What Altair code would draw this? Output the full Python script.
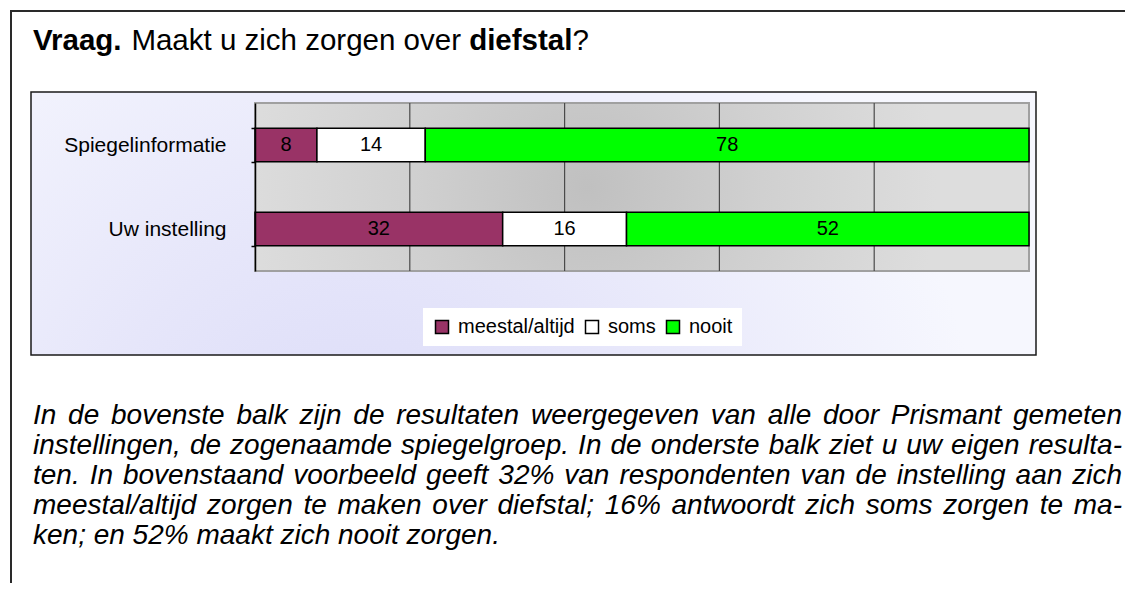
import altair as alt
import pandas as pd

# ---------------- data ----------------
categories = ["Spiegelinformatie", "Uw instelling"]
series = ["meestal/altijd", "soms", "nooit"]
values_spiegel = [8, 14, 78]
values_uw = [32, 16, 52]
colors = ["#993366", "#ffffff", "#00ff00"]
grid_values = [20, 40, 60, 80]

title_parts = [("Vraag.", "bold"), ("Maakt u zich zorgen over", "normal"),
               ("diefstal", "bold"), ("?", "normal")]
body_lines = [
    "In de bovenste balk zijn de resultaten weergegeven van alle door Prismant gemeten",
    "instellingen, de zogenaamde spiegelgroep. In de onderste balk ziet u uw eigen resulta-",
    "ten. In bovenstaand voorbeeld geeft 32% van respondenten van de instelling aan zich",
    "meestal/altijd zorgen te maken over diefstal; 16% antwoordt zich soms zorgen te ma-",
    "ken; en 52% maakt zich nooit zorgen.",
]

FONT = "Liberation Sans"

# ---------------- text metrics (Arial-compatible) ----------------
REG = {' ': 278, '%': 889, ',': 278, '-': 333, '.': 278, '/': 278, ';': 278, '?': 556,
       'I': 278, 'M': 833, 'P': 667, 'S': 667, 'U': 722, 'V': 667,
       'a': 556, 'b': 556, 'c': 500, 'd': 556, 'e': 556, 'f': 278, 'g': 556, 'h': 556,
       'i': 222, 'j': 222, 'k': 500, 'l': 222, 'm': 833, 'n': 556, 'o': 556, 'p': 556,
       'q': 556, 'r': 333, 's': 500, 't': 278, 'u': 556, 'v': 500, 'w': 722, 'x': 500,
       'y': 500, 'z': 500}
BOLD = {'V': 667, 'r': 389, 'a': 556, 'g': 611, '.': 278, 'd': 611, 'i': 278, 'e': 556,
        'f': 333, 's': 556, 't': 333, 'l': 278}


def tw(s, size, table=REG):
    return sum(table.get(c, 556) for c in s) * size / 1000.0


# layout (view coordinates: origin at top-left of the bar plot area)
PW, PH = 774, 168
LEFT_TEXT = -222
RIGHT_TEXT = 867

# title fragments
TSIZE = 29.5
title_rows = []
x = LEFT_TEXT
for i, (t, wgt) in enumerate(title_parts):
    title_rows.append({"t": t, "px": x, "py": -53, "w": wgt})
    table = BOLD if wgt == "bold" else REG
    x += tw(t, TSIZE, table)
    if i < 2:
        x += tw(" ", TSIZE)
title_df = pd.DataFrame(title_rows)

# justified body text
BSIZE = 28
baselines = [321, 351, 381, 411, 441]
word_rows = []
for li, line in enumerate(body_lines):
    words = line.split(" ")
    widths = [tw(w, BSIZE) for w in words]
    if li < len(body_lines) - 1 and len(words) > 1:
        gap = (RIGHT_TEXT - LEFT_TEXT - sum(widths)) / (len(words) - 1)
        gap = max(gap, tw(" ", BSIZE))
    else:
        gap = tw(" ", BSIZE)
    x = LEFT_TEXT
    for w, wd in zip(words, widths):
        word_rows.append({"t": w, "px": x, "py": baselines[li]})
        x += wd + gap
body_df = pd.DataFrame(word_rows)

rows = []
for cat, vals in zip(categories, [values_spiegel, values_uw]):
    for k, (s, v) in enumerate(zip(series, vals)):
        rows.append({"cat": cat, "series": s, "value": v, "order": k})
df = pd.DataFrame(rows)

one = pd.DataFrame({"a": [0]})

xscale = alt.Scale(domain=[0, 100], nice=False, zero=True)
yscale = alt.Scale(domain=categories, paddingInner=0.6, paddingOuter=0.3)

# ---------------- decorations ----------------
frame_left = alt.Chart(one).mark_rule(color="#2a2a2a", strokeWidth=2).encode(
    x=alt.value(-244), y=alt.value(-92), y2=alt.value(480))
frame_top = alt.Chart(one).mark_rule(color="#2a2a2a", strokeWidth=2).encode(
    x=alt.value(-245), x2=alt.value(870), y=alt.value(-92))

box_fill = alt.RadialGradient(
    gradient="radial", x1=0.33, y1=0.78, r1=0, x2=0.33, y2=0.78, r2=0.62,
    stops=[alt.GradientStop(color="#dadaf8", offset=0),
           alt.GradientStop(color="#e6e6fa", offset=0.45),
           alt.GradientStop(color="#f6f7fe", offset=1)])
inner_box = alt.Chart(one).mark_rect(fill=box_fill, stroke="#1a1a1a", strokeWidth=1.5).encode(
    x=alt.value(-224), x2=alt.value(781), y=alt.value(-11), y2=alt.value(252))

plot_fill = alt.RadialGradient(
    gradient="radial", x1=0.43, y1=0.5, r1=0, x2=0.43, y2=0.5, r2=0.45,
    stops=[alt.GradientStop(color="#c0c0c0", offset=0),
           alt.GradientStop(color="#d0d0d0", offset=0.5),
           alt.GradientStop(color="#dddddd", offset=1)])
plot_bg = alt.Chart(one).mark_rect(fill=plot_fill, stroke="#a0a0a0", strokeWidth=2).encode(
    x=alt.value(0), x2=alt.value(PW), y=alt.value(0), y2=alt.value(PH))

grid = alt.Chart(pd.DataFrame({"g": grid_values})).mark_rule(
    color="#4a4a4a", strokeWidth=1.2).encode(
    x=alt.X("g:Q", scale=xscale, axis=None), y=alt.value(0), y2=alt.value(PH))

bars = alt.Chart(df).mark_bar(stroke="black", strokeWidth=1.5).encode(
    x=alt.X("value:Q", stack="zero", scale=xscale, axis=None),
    y=alt.Y("cat:N", sort=categories, scale=yscale, title=None,
            axis=alt.Axis(labelFont=FONT, labelFontSize=21, labelColor="black",
                          domainColor="black", domainWidth=1.5, tickColor="black",
                          tickWidth=1.5, tickSize=4, tickBand="extent", labelPadding=25,
                          grid=False, zindex=2, labelLimit=300)),
    fill=alt.Fill("series:N", scale=alt.Scale(domain=series, range=colors),
                  legend=alt.Legend(orient="none", legendX=168, legendY=205,
                                    direction="horizontal", title=None,
                                    fillColor="white", padding=9,
                                    symbolType="square", symbolSize=169,
                                    symbolStrokeColor="black", symbolStrokeWidth=1.5,
                                    symbolOpacity=1,
                                    labelFont=FONT, labelFontSize=20, labelColor="black",
                                    labelOffset=6, columnPadding=7)),
    order=alt.Order("order:Q"),
)

labels = alt.Chart(df).transform_stack(
    stack="value", groupby=["cat"], as_=["v0", "v1"],
    sort=[alt.SortField("order", order="ascending")]
).transform_calculate(mid="(datum.v0 + datum.v1) / 2").mark_text(
    font=FONT, fontSize=20, color="black", baseline="middle", align="center"
).encode(
    x=alt.X("mid:Q", scale=xscale, axis=None),
    y=alt.Y("cat:N", sort=categories, scale=yscale),
    text=alt.Text("value:Q"),
)

title_bold = alt.Chart(title_df).transform_filter("datum.w == 'bold'").mark_text(
    font=FONT, fontSize=TSIZE, fontWeight="bold", color="black",
    align="left", baseline="alphabetic").encode(
    x=alt.X("px:Q", scale=None), y=alt.Y("py:Q", scale=None), text="t:N")
title_reg = alt.Chart(title_df).transform_filter("datum.w == 'normal'").mark_text(
    font=FONT, fontSize=TSIZE, color="black",
    align="left", baseline="alphabetic").encode(
    x=alt.X("px:Q", scale=None), y=alt.Y("py:Q", scale=None), text="t:N")

body = alt.Chart(body_df).mark_text(
    font=FONT, fontSize=BSIZE, fontStyle="italic", color="black",
    align="left", baseline="alphabetic").encode(
    x=alt.X("px:Q", scale=None), y=alt.Y("py:Q", scale=None), text="t:N")

chart = alt.layer(
    frame_left, frame_top, inner_box, plot_bg, grid, bars, labels,
    title_bold, title_reg, body
).properties(
    width=PW, height=PH,
    padding={"left": 247, "top": 95, "right": 96, "bottom": 312},
    autosize=alt.AutoSizeParams(type="none"),
    background="white",
).configure_view(stroke=None)

chart.save("out.html", embed_options={"renderer": "svg", "actions": False})
